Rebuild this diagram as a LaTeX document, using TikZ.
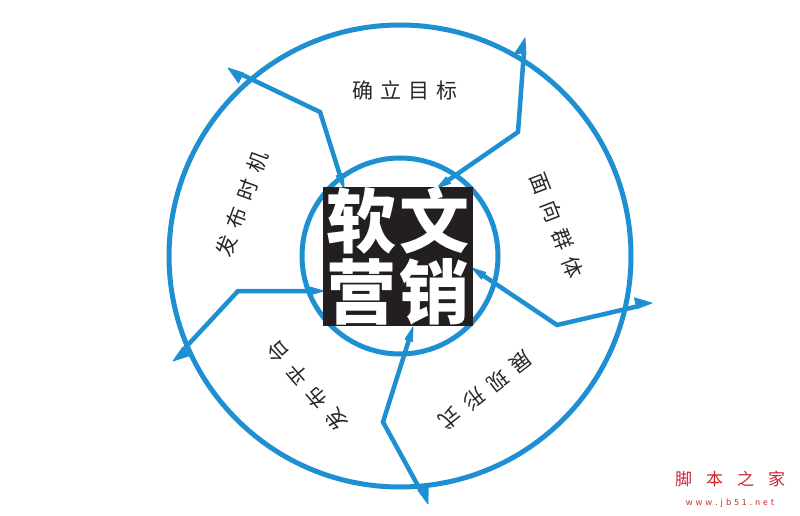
\documentclass[tikz,border=0pt]{standalone}
\usepackage{fontspec}
\usetikzlibrary{calc}
\newfontfamily\cjk{Noto Sans CJK SC}
\definecolor{ringblue}{RGB}{30,144,210}
\definecolor{boxblack}{RGB}{35,31,32}
\definecolor{labgray}{RGB}{40,40,40}
\definecolor{wmred}{RGB}{205,35,45}
\tikzset{
  ring/.style={draw=ringblue, line width=5pt},
  flow/.style={draw=ringblue, line width=4.5pt, line join=miter},
  wedgefill/.style={fill=ringblue, draw=ringblue, line width=0.8pt, line join=round},
  lab/.style={font=\cjk\fontsize{21}{21}\selectfont, text=labgray, inner sep=0pt},
  bigchar/.style={font=\cjk\bfseries\fontsize{70}{70}\selectfont, text=white, inner sep=0pt},
}
\newcommand{\flowarrow}[3]{%
  \coordinate (#1b) at ($(#1)!14pt!(#2)$);
  \coordinate (#3b) at ($(#3)!16pt!(#2)$);
  \draw[flow] (#1b) -- (#2) -- (#3b);
  \filldraw[wedgefill] (#1) -- ($(#1b)!4pt!90:(#1)$) -- ($(#1b)!4pt!-90:(#1)$) -- cycle;
  \filldraw[wedgefill] (#3) -- ($(#3b)!2.2pt!-90:(#3)$) -- ($(#3b)!9pt!90:(#3)$) -- cycle;
}
\begin{document}
\begin{tikzpicture}[x=1pt,y=-1pt]
\useasboundingbox (0,0) rectangle (800,516);
\fill[white] (0,0) rectangle (800,516);
\coordinate (O) at (400,256);
\draw[ring] (O) circle[radius=231];
\draw[ring] (O) circle[radius=98];

% arrow 1 (top-left)
\coordinate (a1i) at (344,188);
\coordinate (a1k) at (320,112);
\coordinate (a1o) at (228,68);
% arrow 2 (top-right)
\coordinate (a2i) at (437,188);
\coordinate (a2k) at (518,132);
\coordinate (a2o) at (525,38);
% arrow 3 (right)
\coordinate (a3i) at (472,268);
\coordinate (a3k) at (557,325);
\coordinate (a3o) at (652,303);
% arrow 4 (bottom)
\coordinate (a4i) at (413,327);
\coordinate (a4k) at (383,422);
\coordinate (a4o) at (428,504);
% arrow 5 (bottom-left)
\coordinate (a5i) at (324,291);
\coordinate (a5k) at (238,291);
\coordinate (a5o) at (173,361);

\flowarrow{a1i}{a1k}{a1o}
\flowarrow{a2i}{a2k}{a2o}
\flowarrow{a3i}{a3k}{a3o}
\flowarrow{a4i}{a4k}{a4o}
\flowarrow{a5i}{a5k}{a5o}

% centre box
\node[fill=boxblack, minimum width=150pt, minimum height=139pt, inner sep=0pt] (box) at (398,256.5) {};
\node[bigchar] (ruanwen) at (398,221) {软\hspace{4pt}文};
\node[bigchar] (yingxiao) at (398,292) {营\hspace{4pt}销};

% labels
\node[lab] (l1) at (405,90) {确\hspace{7pt}立\hspace{7pt}目\hspace{7pt}标};
\node[lab, rotate=-69] (l2) at (557,225) {面\hspace{9pt}向\hspace{9pt}群\hspace{9pt}体};
\node[lab, rotate=-142] (l3) at (486,390) {展\hspace{9pt}现\hspace{9pt}形\hspace{9pt}式};
\node[lab, rotate=131] (l4) at (307,386) {发\hspace{9pt}布\hspace{9pt}平\hspace{9pt}台};
\node[lab, rotate=70] (l5) at (242,204) {发\hspace{9pt}布\hspace{9pt}时\hspace{9pt}机};

% watermark
\node[font=\cjk\fontsize{17}{17}\selectfont, text=wmred, inner sep=0pt] (wm1) at (730,479) {脚\hspace{14pt}本\hspace{14pt}之\hspace{14pt}家};
\node[font=\cjk\fontsize{8.5}{8.5}\selectfont, text=wmred, inner sep=0pt] (wm2) at (730,503) {w\hspace{3pt}w\hspace{3pt}w\hspace{3pt}.\hspace{3pt}j\hspace{3pt}b\hspace{3pt}5\hspace{3pt}1\hspace{3pt}.\hspace{3pt}n\hspace{3pt}e\hspace{3pt}t};
\end{tikzpicture}
\end{document}
